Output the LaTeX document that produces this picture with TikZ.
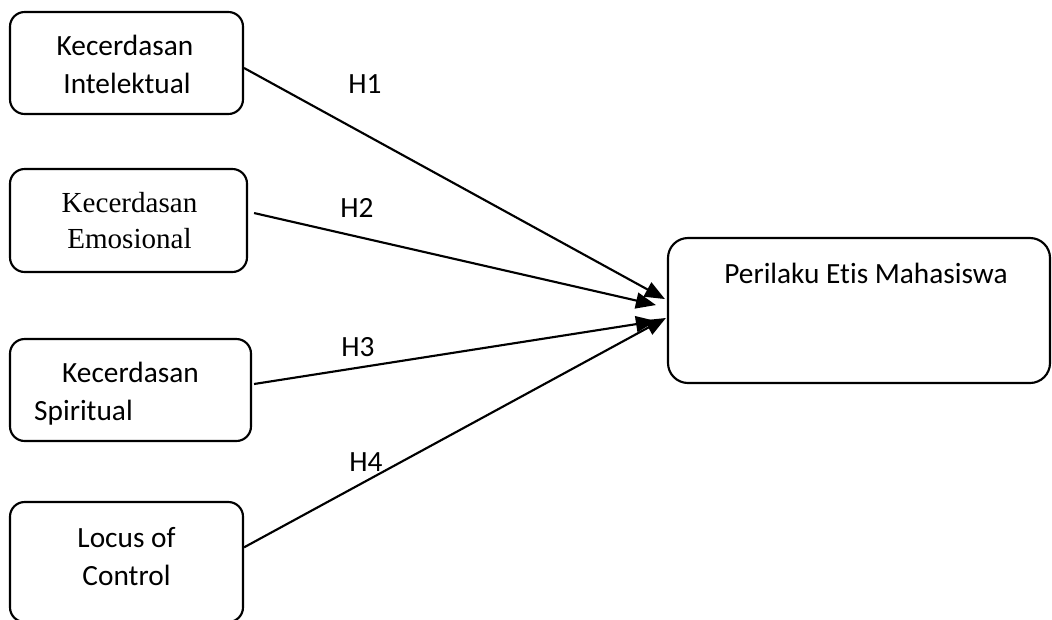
\documentclass[tikz,border=0pt]{standalone}
\usepackage{fontspec}
\setmainfont{Carlito}[Ligatures=NoCommon]
\newfontfamily\serifface{Liberation Serif}
\usetikzlibrary{arrows.meta}

\tikzset{
  varbox/.style={draw, line width=1.6pt, rounded corners=11pt, inner sep=0pt},
  vartext/.style={anchor=base, inner sep=0pt, font=\fontsize{22}{28}\selectfont},
  hlabel/.style={anchor=base, inner sep=0pt, font=\fontsize{22}{28}\selectfont},
  hyp/.style={line width=1.6pt, -{Triangle[length=15pt, width=12pt]}}
}

\begin{document}
\begin{tikzpicture}[x=0.75pt, y=-0.75pt]
      \useasboundingbox (0,0) rectangle (1052,619);
      % variables
      \node[varbox, minimum width=174.75pt, minimum height=76.5pt] (ki) at (126.5,63) {};
      \node[varbox, minimum width=177.75pt, minimum height=77.25pt] (ke) at (128.5,220.5) {};
      \node[varbox, minimum width=180.75pt, minimum height=76.5pt] (ks) at (130.5,390) {};
      \node[varbox, minimum width=174.75pt, minimum height=90pt] (lc) at (126.5,562) {};
      \node[varbox, rounded corners=15pt, minimum width=286.5pt, minimum height=108.75pt] (pe) at (859,310.5) {};
      % texts
      \node[vartext] (kit1) at (125,55) {Kecerdasan};
      \node[vartext] (kit2) at (127,93) {Intelektual};
      \node[vartext, font=\serifface\fontsize{21.8}{28}\selectfont] (ket1) at (129.5,212) {Kecerdasan};
      \node[vartext, font=\serifface\fontsize{21.8}{28}\selectfont] (ket2) at (129.5,248) {Emosional};
      \node[vartext] (kst1) at (130.5,382) {Kecerdasan};
      \node[vartext] (kst2) at (83.5,420) {Spiritual};
      \node[vartext] (lct1) at (126.5,547) {Locus of};
      \node[vartext] (lct2) at (126.5,585) {Control};
      \node[vartext] (pet) at (866,283) {Perilaku Etis Mahasiswa};
      % hypotheses
      \draw[hyp] ([yshift=-3.75pt]ki.east) -- ([xshift=-1.5pt, yshift=8.6pt]pe.west);
      \draw[hyp] ([xshift=4.5pt, yshift=5.6pt]ke.east) -- ([xshift=-8.25pt, yshift=4.1pt]pe.west);
      \draw[hyp] ([xshift=1.5pt, yshift=4.5pt]ks.east) -- ([xshift=-8.25pt, yshift=-7.9pt]pe.west);
      \draw[hyp] ([yshift=11pt]lc.east) -- ([xshift=-0.75pt, yshift=-5.6pt]pe.west);
      \node[hlabel] (h1) at (365,93) {H1};
      \node[hlabel] (h2) at (357,217) {H2};
      \node[hlabel] (h3) at (358,356) {H3};
      \node[hlabel] (h4) at (366,471) {H4};
    \end{tikzpicture}
\end{document}
